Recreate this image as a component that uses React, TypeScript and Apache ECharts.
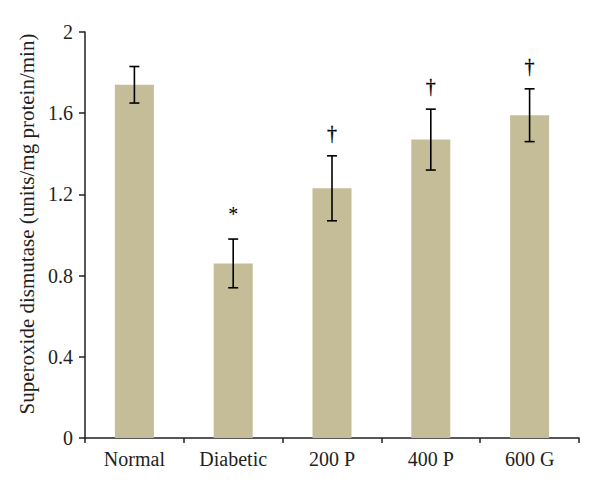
import React, { useEffect, useRef } from "react";
import * as echarts from "echarts";

const categories = ["Normal", "Diabetic", "200 P", "400 P", "600 G"];
const means = [1.74, 0.86, 1.23, 1.47, 1.59];
const errors = [0.09, 0.12, 0.16, 0.15, 0.13];
const marks = ["", "*", "\u2020", "\u2020", "\u2020"];
const yTicks = [0, 0.4, 0.8, 1.2, 1.6, 2];

const FONT = "'Liberation Serif', 'Times New Roman', serif";
const INK = "#231f20";

export default function App() {
  const ref = useRef<HTMLDivElement>(null);
  useEffect(() => {
    if (!ref.current) return;
    const chart = echarts.init(ref.current, undefined, { renderer: "svg" });
    const errData = categories.map((_, i) => [i, means[i] - errors[i], means[i] + errors[i], marks[i]]);
    chart.setOption({
      animation: false,
      backgroundColor: "#ffffff",
      grid: { left: 85, right: 21, top: 32, bottom: 56, containLabel: false },
      xAxis: {
        type: "category",
        data: categories,
        axisLine: { lineStyle: { color: INK, width: 1.5 } },
        axisTick: { show: true, length: 5, inside: false, alignWithLabel: false, lineStyle: { color: INK, width: 1.5 } },
        axisLabel: { color: INK, fontFamily: FONT, fontSize: 20, margin: 11 },
        splitLine: { show: false },
      },
      yAxis: {
        type: "value",
        min: yTicks[0],
        max: yTicks[yTicks.length - 1],
        interval: 0.4,
        name: "Superoxide dismutase (units/mg protein/min)",
        nameLocation: "middle",
        nameGap: 40,
        nameTextStyle: { color: INK, fontFamily: FONT, fontSize: 21, padding: [0, 0, 0, 22] },
        axisLine: { show: true, lineStyle: { color: INK, width: 1.5 } },
        axisTick: { show: true, length: 6, inside: false, lineStyle: { color: INK, width: 1.5 } },
        axisLabel: { color: INK, fontFamily: FONT, fontSize: 20, margin: 12 },
        splitLine: { show: false },
      },
      series: [
        {
          type: "bar",
          data: means,
          barWidth: 39,
          itemStyle: { color: "#c4bd97" },
          z: 1,
        },
        {
          type: "custom",
          data: errData,
          z: 5,
          renderItem: (params: any, api: any) => {
            const i = api.value(0);
            const lo = api.coord([i, api.value(1)]);
            const hi = api.coord([i, api.value(2)]);
            const x = lo[0];
            const half = 5;
            const mark = marks[params.dataIndex];
            const style = { stroke: "#000", lineWidth: 1.6 };
            const children: any[] = [
              { type: "line", shape: { x1: x, y1: lo[1], x2: x, y2: hi[1] }, style },
              { type: "line", shape: { x1: x - half, y1: lo[1], x2: x + half, y2: lo[1] }, style },
              { type: "line", shape: { x1: x - half, y1: hi[1], x2: x + half, y2: hi[1] }, style },
            ];
            if (mark) {
              const isStar = mark === "*";
              children.push({
                type: "text",
                style: {
                  text: mark,
                  x: x,
                  y: hi[1] - (isStar ? 15 : 13),
                  align: "center",
                  verticalAlign: "bottom",
                  font: `20px ${FONT}`,
                  fill: "#000",
                  stroke: isStar ? undefined : "#000",
                  lineWidth: isStar ? 0 : 0.3,
                },
              });
            }
            return { type: "group", children };
          },
        },
      ],
    });
    return () => chart.dispose();
  }, []);
  return (
    <div
      ref={ref}
      style={{ position: "fixed", left: 0, top: 0, width: 600, height: 494, background: "#fff" }}
    />
  );
}
